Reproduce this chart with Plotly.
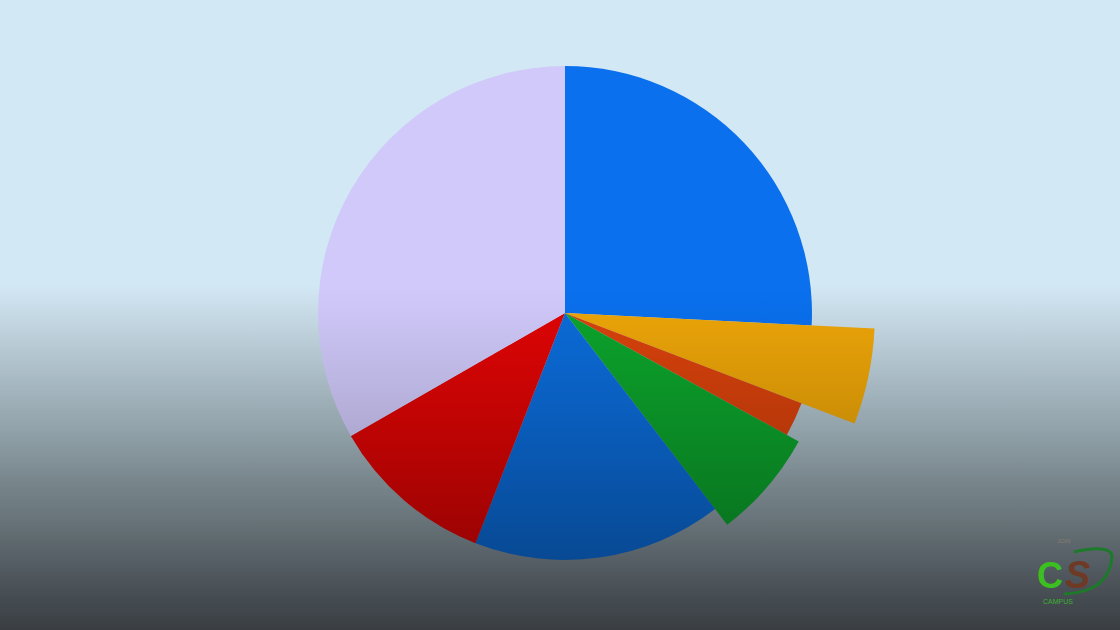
import base64

import numpy as np
import plotly.graph_objects as go

# slices, clockwise from 12 o'clock
slices = ["Blue", "Orange", "Dark orange", "Green", "Dark blue", "Red", "Lavender"]
shares = [25.8, 5.0, 2.2, 6.6, 16.3, 10.8, 33.3]
# the highlighted slices stick out further than the rest
radius = [1.0, 1.255, 1.025, 1.08, 1.0, 1.0, 1.0]
colors = ["#0a70ee", "#eea608", "#da420c", "#0ca42c", "#0b6cda", "#e00404", "#d0c9fa"]

W, H = 1120, 630

widths = [s * 3.6 for s in shares]
starts = np.cumsum([0] + widths[:-1])
theta = [a + w / 2 for a, w in zip(starts, widths)]

fig = go.Figure(go.Barpolar(
    r=radius, theta=theta, width=widths, text=slices,
    marker=dict(color=colors, line=dict(width=0)),
    hovertemplate="%{text}<extra></extra>", showlegend=False,
))

# background: flat light blue on top, grey gradient below the "horizon"
bg_y = [0, 285, 337, 402, 442, 482, 522, 562, 603, 630]
bg_c = np.array([(211, 232, 245), (211, 232, 245), (188, 207, 217), (158, 175, 184),
                 (140, 156, 163), (120, 134, 140), (103, 115, 120), (85, 94, 100),
                 (67, 74, 79), (58, 62, 66)], dtype=float)
y0, max_shade = 285, 0.42


def shade(y):
    return 0.0 if y < y0 else max_shade * ((y - y0) / (H - y0)) ** 1.15


def svg_uri(stops):
    body = (f'<svg xmlns="http://www.w3.org/2000/svg" width="{W}" height="{H}">'
            '<defs><linearGradient id="g" x1="0" y1="0" x2="0" y2="1">'
            + "".join(stops) +
            f'</linearGradient></defs><rect width="{W}" height="{H}" fill="url(#g)"/></svg>')
    return "data:image/svg+xml;base64," + base64.b64encode(body.encode()).decode()


bg_stops, dark_stops = [], []
for y in range(0, H + 1, 5):
    c = np.array([np.interp(y, bg_y, bg_c[:, k]) for k in range(3)])
    c = np.clip(c / (1 - shade(y)), 0, 255).astype(int)
    bg_stops.append(f'<stop offset="{y / H:.4f}" stop-color="rgb({c[0]},{c[1]},{c[2]})"/>')
    dark_stops.append(f'<stop offset="{y / H:.4f}" stop-color="black" stop-opacity="{shade(y):.3f}"/>')

images = [
    dict(source=svg_uri(bg_stops), xref="paper", yref="paper", x=0, y=1,
         sizex=1, sizey=1, xanchor="left", yanchor="top", sizing="stretch", layer="below"),
    dict(source=svg_uri(dark_stops), xref="paper", yref="paper", x=0, y=1,
         sizex=1, sizey=1, xanchor="left", yanchor="top", sizing="stretch", layer="above"),
]


def px(x, y):
    return x / W, 1 - y / H


# logo swoosh around the "S"
p = [px(1064, 594), px(1110, 592), px(1112, 556), px(1110, 544), px(1074, 552)]
swoosh = (f"M {p[0][0]:.4f},{p[0][1]:.4f} Q {p[1][0]:.4f},{p[1][1]:.4f} {p[2][0]:.4f},{p[2][1]:.4f} "
          f"Q {p[3][0]:.4f},{p[3][1]:.4f} {p[4][0]:.4f},{p[4][1]:.4f}")


def logo_text(text, x, y, size, color):
    return dict(text=text, x=x / W, y=1 - y / H, xref="paper", yref="paper",
                xanchor="center", yanchor="middle", showarrow=False,
                font=dict(family="Liberation Sans", size=size, color=color))


fig.update_layout(
    width=W, height=H, margin=dict(l=0, r=0, t=0, b=0),
    paper_bgcolor="#d3e8f5",
    polar=dict(
        domain=dict(x=[0.2266, 0.7823], y=[0.0092, 0.9971]),
        bgcolor="rgba(0,0,0,0)", bargap=0,
        radialaxis=dict(range=[0, 1.26], visible=False),
        angularaxis=dict(rotation=90, direction="clockwise", visible=False),
    ),
    images=images,
    shapes=[dict(type="path", xref="paper", yref="paper", path=swoosh,
                 line=dict(color="#1c7a2a", width=3), layer="above")],
    annotations=[
        logo_text("<b>C</b>", 1050, 575, 36, "#3cc020"),
        logo_text("<b><i>S</i></b>", 1077, 575, 38, "#6e3a26"),
        logo_text("JOIN", 1064, 541, 6, "#8a7a70"),
        logo_text("CAMPUS", 1058, 601, 7, "#3cb030"),
    ],
)

fig.write_html("out.html", config={"displayModeBar": False},
               post_script="document.body.style.margin='0';")
